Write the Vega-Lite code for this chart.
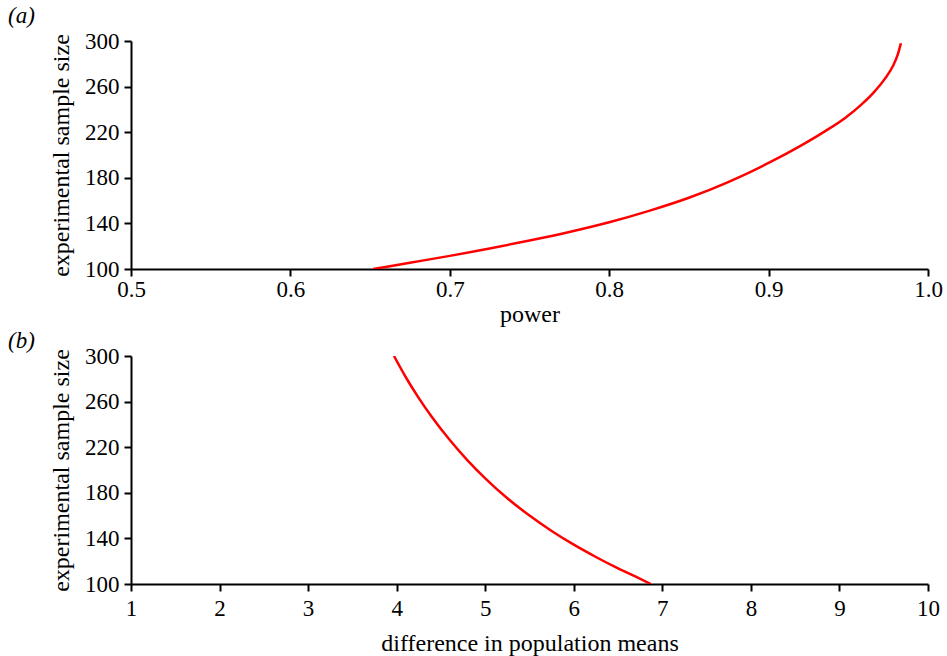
{
  "$schema": "https://vega.github.io/schema/vega-lite/v6.json",
  "padding": {"left": 8, "top": 5, "right": 5, "bottom": 1},
  "background": "white",
  "config": {
    "font": "Liberation Serif",
    "view": {"stroke": null},
    "axis": {
      "grid": false,
      "domainColor": "black",
      "domainWidth": 2,
      "tickColor": "black",
      "tickWidth": 2,
      "tickSize": 7,
      "labelFontSize": 23,
      "titleFontSize": 24,
      "labelColor": "black",
      "titleColor": "black",
      "titleFontWeight": "normal",
      "labelFont": "Liberation Serif",
      "titleFont": "Liberation Serif",
      "labelFlush": false,
      "labelOverlap": false
    },
    "title": {"font": "Liberation Serif", "fontSize": 23, "fontWeight": "normal", "color": "black", "anchor": "start", "frame": "group"},
    "concat": {"spacing": 4}
  },
  "datasets": {
    "a": [
      {"power": 0.652, "n": 100},
      {"power": 0.675, "n": 105.5},
      {"power": 0.7, "n": 111.5},
      {"power": 0.725, "n": 118},
      {"power": 0.75, "n": 125},
      {"power": 0.775, "n": 132.5},
      {"power": 0.8, "n": 141},
      {"power": 0.825, "n": 151},
      {"power": 0.85, "n": 162.5},
      {"power": 0.875, "n": 176.5},
      {"power": 0.9, "n": 193},
      {"power": 0.92, "n": 208},
      {"power": 0.935, "n": 220.5},
      {"power": 0.948, "n": 232.5},
      {"power": 0.958, "n": 244},
      {"power": 0.966, "n": 255},
      {"power": 0.973, "n": 267},
      {"power": 0.978, "n": 278},
      {"power": 0.981, "n": 288},
      {"power": 0.983, "n": 298}
    ],
    "b": [
      {"diff": 3.97, "n": 300},
      {"diff": 4.1, "n": 281.8},
      {"diff": 4.25, "n": 263.1},
      {"diff": 4.4, "n": 246.3},
      {"diff": 4.6, "n": 226.3},
      {"diff": 4.8, "n": 208.5},
      {"diff": 5.0, "n": 192.7},
      {"diff": 5.25, "n": 175.2},
      {"diff": 5.5, "n": 160},
      {"diff": 5.75, "n": 146.5},
      {"diff": 6.0, "n": 134.5},
      {"diff": 6.25, "n": 123.7},
      {"diff": 6.5, "n": 113.7},
      {"diff": 6.7, "n": 106.4},
      {"diff": 6.87, "n": 100}
    ]
  },
  "vconcat": [
    {
      "width": 797,
      "height": 228,
      "title": {"text": "(a)", "fontStyle": "italic", "dx": -123, "offset": 2},
      "data": {"name": "a"},
      "mark": {"type": "line", "color": "#ff0000", "strokeWidth": 2.5, "interpolate": "monotone", "clip": true},
      "encoding": {
        "x": {"field": "power", "type": "quantitative", "title": "power",
              "scale": {"domain": [0.5, 1.0], "nice": false, "zero": false},
              "axis": {"values": [0.5, 0.6, 0.7, 0.8, 0.9, 1.0], "format": ".1f", "labelFont": "Liberation Serif", "labelPadding": 2, "titlePadding": 1}},
        "y": {"field": "n", "type": "quantitative", "title": "experimental sample size",
              "scale": {"domain": [100, 300], "nice": false, "zero": false},
              "axis": {"values": [100, 140, 180, 220, 260, 300], "labelFont": "Liberation Serif", "labelPadding": 5, "titlePadding": 11}}
      }
    },
    {
      "width": 797,
      "height": 228,
      "title": {"text": "(b)", "fontStyle": "italic", "dx": -123, "offset": -8},
      "data": {"name": "b"},
      "mark": {"type": "line", "color": "#ff0000", "strokeWidth": 2.5, "interpolate": "monotone", "clip": true},
      "encoding": {
        "x": {"field": "diff", "type": "quantitative", "title": "difference in population means",
              "scale": {"domain": [1, 10], "nice": false, "zero": false},
              "axis": {"values": [1, 2, 3, 4, 5, 6, 7, 8, 9, 10], "format": "d", "labelFont": "Liberation Serif", "labelPadding": 6, "titlePadding": 11}},
        "y": {"field": "n", "type": "quantitative", "title": "experimental sample size",
              "scale": {"domain": [100, 300], "nice": false, "zero": false},
              "axis": {"values": [100, 140, 180, 220, 260, 300], "labelFont": "Liberation Serif", "labelPadding": 5, "titlePadding": 11}}
      }
    }
  ]
}
